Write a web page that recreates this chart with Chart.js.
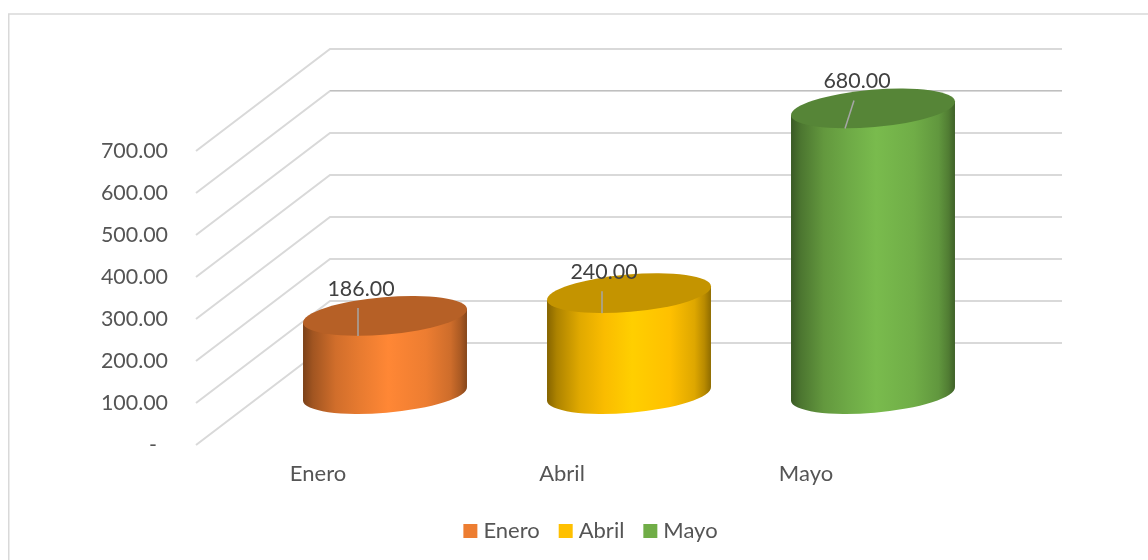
<!DOCTYPE html>
<html>
<head>
<meta charset="utf-8">
<title>Enero Abril Mayo</title>
<script src="https://cdn.jsdelivr.net/npm/chart.js@4"></script>
<style>
  html, body { margin: 0; padding: 0; background: #fff; overflow: hidden; }
  canvas { display: block; }
</style>
</head>
<body>
<canvas id="cylinders" width="1148" height="560"></canvas>
<script>
const categories = ['Enero', 'Abril', 'Mayo'];
const values = [186, 240, 680];
const yTicks = [0, 100, 200, 300, 400, 500, 600, 700];

const baseColors = ['#ED7D31', '#FFC000', '#70AD47'];
const fontName = 'Lato, "Open Sans", sans-serif';
const textColor = '#555555';
const gridColor = '#d9d9d9';

// the 3D look: how far the back wall sits from the front of the chart
const depthX = 134;
const depthY = -102;
const tilt = -4.9 * Math.PI / 180;
const ellipseRy = 18.7;

// the value labels were moved by hand in the original, with a leader line
const labelShift = [[-24, -26], [-25, -20], [-16, -26]];
const leaderTop = [[-27, -8], [-27, -2], [-19, -8]];
const leaderBottom = [[-27, 20], [-27, 20], [-28, 20]];

// multiply a hex colour, used for the shading of the cylinders
function shade(hex, f) {
  const n = parseInt(hex.slice(1), 16);
  const c = [n >> 16, (n >> 8) & 255, n & 255].map((v) => Math.min(255, Math.round(v * f)));
  return 'rgb(' + c.join(',') + ')';
}

const wallPlugin = {
  id: 'wall',
  afterLayout(chart) {
    // legend sits right of the canvas centre
    chart.legend.left += 129;
    chart.legend.right += 129;
  },
  beforeDraw(chart) {
    const ctx = chart.ctx;
    ctx.save();
    ctx.strokeStyle = gridColor;
    ctx.lineWidth = 1.5;
    ctx.strokeRect(8.75, 14, 1200, 600);
    ctx.restore();
  },
  beforeDatasetsDraw(chart) {
    const ctx = chart.ctx;
    const y = chart.scales.y;
    const area = chart.chartArea;
    ctx.save();
    ctx.lineWidth = 2;
    ctx.lineJoin = 'miter';
    yTicks.forEach((t) => {
      const py = y.getPixelForValue(t);
      ctx.strokeStyle = gridColor;
      ctx.beginPath();
      ctx.moveTo(area.left, py);
      ctx.lineTo(area.left + depthX, py + depthY);
      ctx.lineTo(area.right + depthX, py + depthY);
      ctx.stroke();
      // the 600 line prints darker on the back wall in the original
      if (t === 600) {
        ctx.strokeStyle = '#bfbfbf';
        ctx.lineWidth = 1;
        ctx.beginPath();
        ctx.moveTo(area.left + depthX, py + depthY - 0.5);
        ctx.lineTo(area.right + depthX, py + depthY - 0.5);
        ctx.stroke();
        ctx.lineWidth = 2;
      }
    });
    ctx.restore();
  },
  afterDatasetsDraw(chart) {
    const ctx = chart.ctx;
    const bars = chart.getDatasetMeta(0).data;
    bars.forEach((bar, i) => {
      const cx = bar.x + depthX / 2;
      const top = bar.y + depthY / 2;
      const bottom = bar.base + depthY / 2;
      const half = bar.width / 2;
      const rx = half / Math.cos(tilt);
      const tipY = half * Math.tan(tilt);
      const color = baseColors[i];

      const body = ctx.createLinearGradient(cx - half, 0, cx + half, 0);
      body.addColorStop(0, shade(color, 0.52));
      body.addColorStop(0.06, shade(color, 0.68));
      body.addColorStop(0.2, shade(color, 0.88));
      body.addColorStop(0.35, shade(color, 0.98));
      body.addColorStop(0.52, shade(color, 1.08));
      body.addColorStop(0.75, shade(color, 1.0));
      body.addColorStop(0.9, shade(color, 0.87));
      body.addColorStop(0.96, shade(color, 0.72));
      body.addColorStop(1, shade(color, 0.56));

      ctx.save();
      ctx.beginPath();
      ctx.ellipse(cx, bottom, rx, ellipseRy, tilt, 0, Math.PI);
      ctx.lineTo(cx - half, top - tipY);
      ctx.lineTo(cx + half, top + tipY);
      ctx.closePath();
      ctx.fillStyle = body;
      ctx.fill();

      ctx.beginPath();
      ctx.ellipse(cx, top, rx, ellipseRy, tilt, 0, Math.PI * 2);
      ctx.fillStyle = shade(color, 0.77);
      ctx.fill();

      ctx.beginPath();
      ctx.moveTo(cx + leaderTop[i][0], top + leaderTop[i][1]);
      ctx.lineTo(cx + leaderBottom[i][0], top + leaderBottom[i][1]);
      ctx.strokeStyle = '#a6a6a6';
      ctx.lineWidth = 1.5;
      ctx.stroke();

      ctx.font = '21.4px ' + fontName;
      ctx.fillStyle = '#404040';
      ctx.textAlign = 'center';
      ctx.textBaseline = 'middle';
      ctx.fillText(values[i].toFixed(2), cx + labelShift[i][0], top + labelShift[i][1] - 1);
      ctx.restore();
    });
  }
};

new Chart(document.getElementById('cylinders'), {
  type: 'bar',
  plugins: [wallPlugin],
  data: {
    labels: categories,
    datasets: [{
      data: values,
      backgroundColor: 'transparent',
      barPercentage: 1,
      categoryPercentage: 0.672
    }]
  },
  options: {
    responsive: false,
    animation: false,
    layout: { padding: { top: 151, right: 220, bottom: 8, left: 0 } },
    scales: {
      x: {
        grid: { display: false },
        border: { display: false },
        ticks: { color: textColor, font: { family: fontName, size: 22 }, padding: 8 },
        afterFit(scale) { scale.height = 51; }
      },
      y: {
        min: 0,
        max: 700,
        grid: { display: false },
        border: { display: false },
        afterBuildTicks(scale) { scale.ticks = yTicks.map((v) => ({ value: v })); },
        ticks: {
          color: textColor,
          font: { family: fontName, size: 21.4 },
          padding: 20,
          callback: (v) => (v === 0 ? '-\u00a0\u00a0' : v.toFixed(2))
        },
        afterFit(scale) { scale.width = 196; }
      }
    },
    plugins: {
      tooltip: { enabled: false },
      legend: {
        position: 'bottom',
        labels: {
          color: textColor,
          font: { family: fontName, size: 22 },
          usePointStyle: true,
          boxWidth: 4,
          boxHeight: 14,
          padding: 24,
          generateLabels: () => categories.map((name, i) => ({
            text: name,
            fillStyle: baseColors[i],
            strokeStyle: baseColors[i],
            lineWidth: 0,
            pointStyle: 'rect',
            fontColor: textColor,
            index: i
          }))
        }
      }
    }
  }
});
</script>
</body>
</html>
